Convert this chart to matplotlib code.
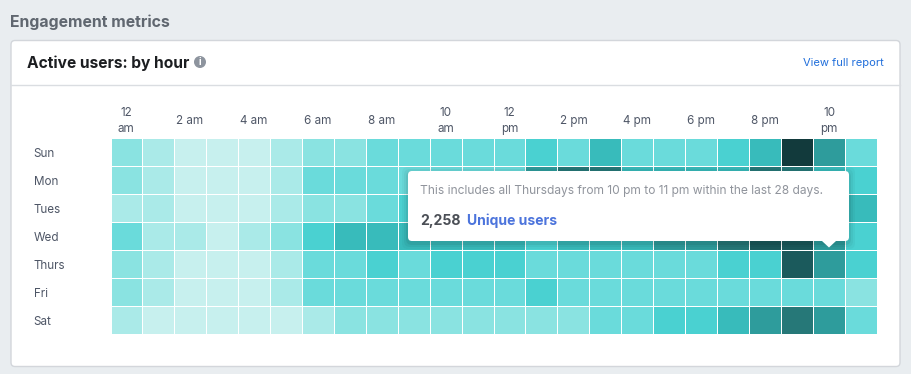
import numpy as np
import matplotlib
matplotlib.use("Agg")
import matplotlib.pyplot as plt
from matplotlib.colors import ListedColormap, BoundaryNorm
from matplotlib.patches import FancyBboxPatch, Polygon, Circle

plt.rcParams["font.family"] = ["Inter", "DejaVu Sans"]

W, H = 911, 374

days = ["Sun", "Mon", "Tues", "Wed", "Thurs", "Fri", "Sat"]
hour_ticks = [0, 2, 4, 6, 8, 10, 12, 14, 16, 18, 20, 22]
hour_labels = ["12\nam", "2 am", "4 am", "6 am", "8 am", "10\nam",
               "12\npm", "2 pm", "4 pm", "6 pm", "8 pm", "10\npm"]

# colour bucket per cell, 12 am to 11 pm (cells under the tooltip are guesses)
sun = [2, 1, 0, 0, 0, 1, 2, 2, 3, 3, 3, 3, 3, 4, 3, 5, 3, 3, 3, 4, 5, 9, 6, 3]
mon = [2, 1, 0, 0, 0, 1, 3, 3, 3, 3, 3, 3, 3, 6, 7, 7, 5, 5, 5, 5, 7, 7, 5, 4]
tue = [1, 1, 0, 0, 0, 1, 2, 2, 3, 4, 4, 4, 4, 5, 5, 5, 5, 5, 5, 6, 6, 6, 5, 5]
wed = [3, 1, 1, 0, 1, 2, 4, 5, 5, 5, 5, 5, 5, 4, 5, 5, 5, 6, 6, 7, 8, 8, 6, 4]
thu = [2, 1, 0, 0, 0, 1, 3, 3, 4, 3, 4, 4, 4, 3, 3, 3, 3, 3, 3, 4, 4, 8, 6, 4]
fri = [2, 1, 0, 0, 0, 1, 3, 3, 3, 3, 3, 3, 3, 4, 3, 3, 3, 3, 3, 3, 3, 3, 3, 2]
sat = [1, 0, 0, 0, 0, 0, 1, 2, 2, 2, 2, 2, 2, 2, 2, 3, 3, 4, 4, 5, 6, 7, 6, 3]

palette = ["#C7F0EE", "#AAEAE8", "#8AE3E1", "#6ADBDB", "#4AD1D1",
           "#38BBBB", "#2E9C9C", "#267878", "#1B5A5C", "#123A3C"]

grid = np.array([sun, mon, tue, wed, thu, fri, sat])

fig = plt.figure(figsize=(W / 100, H / 100), dpi=100, facecolor="#E9EDF0")

# page furniture in pixel coordinates
bg = fig.add_axes([0, 0, 1, 1], zorder=0)
bg.set_xlim(0, W)
bg.set_ylim(H, 0)
bg.axis("off")

bg.text(10, 22, "Engagement metrics", fontsize=11.4, fontweight="bold", color="#606770", va="center")
bg.add_patch(FancyBboxPatch((11, 40.5), 889, 326, boxstyle="round,pad=0,rounding_size=4",
                            fc="white", ec="#D3D6DB", lw=1))
bg.plot([11, 900], [84.5, 84.5], color="#DADDE1", lw=1)
bg.text(27, 63, "Active users: by hour", fontsize=11.2, fontweight="bold", color="#1C1E21", va="center")
bg.add_patch(Circle((200, 62), 6, fc="#8D949E", ec="none"))
bg.text(200, 62.3, "i", fontsize=7, fontweight="bold", color="white", ha="center", va="center")
bg.text(884, 62.5, "View full report", fontsize=8.0, color="#216FDB", ha="right", va="center")

# heatmap, first column is clipped a little by the left edge
ax = fig.add_axes([112 / W, 1 - 334.3 / H, 765 / W, 195.3 / H], zorder=1)
cmap = ListedColormap(palette)
norm = BoundaryNorm(np.arange(-0.5, len(palette)), cmap.N)
ax.pcolormesh(np.arange(grid.shape[1] + 1), np.arange(grid.shape[0] + 1), grid,
              cmap=cmap, norm=norm, edgecolors="white", linewidth=0.5)
ax.set_ylim(grid.shape[0], 0.025)
ax.set_xlim(0.0625, grid.shape[1])
ax.xaxis.tick_top()
ax.set_xticks(np.array(hour_ticks) + 0.5)
ax.set_yticks(np.arange(len(days)) + 0.5)
ax.tick_params(axis="x", length=0, pad=13)
ax.tick_params(axis="y", length=0, pad=56.5)
ax.set_xticklabels(hour_labels, fontsize=8.4, color="#4E5666", linespacing=1.47, va="center")
ax.set_yticklabels(days, fontsize=8.4, color="#4E5666", ha="left", va="center_baseline")
for s in ax.spines.values():
    s.set_visible(False)

# tooltip
top = fig.add_axes([0, 0, 1, 1], zorder=2)
top.set_xlim(0, W)
top.set_ylim(H, 0)
top.axis("off")
top.patch.set_alpha(0)
for grow, alpha in [(6, 0.03), (4, 0.04), (2, 0.06)]:
    top.add_patch(FancyBboxPatch((408 - grow, 171 - grow + 2), 441 + 2 * grow, 70 + 2 * grow,
                                 boxstyle="round,pad=0,rounding_size=6", fc="black", ec="none", alpha=alpha))
top.add_patch(FancyBboxPatch((408, 171), 441, 70, boxstyle="round,pad=0,rounding_size=4",
                             fc="white", ec="none"))
top.add_patch(Polygon([[822, 241], [829, 247.5], [836, 241]], closed=True, fc="white", ec="none"))
top.text(420, 190.5, "This includes all Thursdays from 10 pm to 11 pm within the last 28 days.",
         fontsize=8.64, color="#90949C", va="center")
top.text(420, 221, "2,258", fontsize=10.1, fontweight="bold", color="#4B4F56", va="center")
top.text(467, 221, "Unique users", fontsize=10.05, fontweight="bold", color="#4C74DC", va="center")

fig.savefig("out.png", dpi=100, facecolor=fig.get_facecolor())
